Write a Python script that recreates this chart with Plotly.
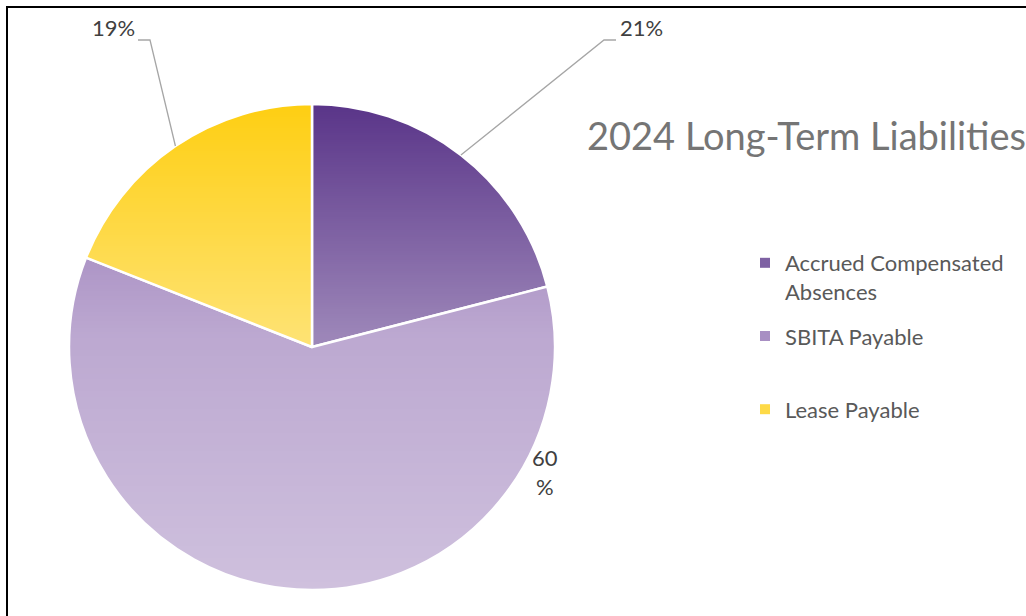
import base64
import math
import struct
import zlib

import plotly.graph_objects as go

# ---- data -------------------------------------------------------------
categories = ["Accrued Compensated Absences", "SBITA Payable", "Lease Payable"]
legend_labels = ["Accrued Compensated<br>Absences", "SBITA Payable<br>\u00a0", "Lease Payable<br>\u00a0"]
shares = [21, 60, 19]
pct_labels = ["21%", "60<br>%", "19%"]
slice_colors = ["#5a3589", "#906fb2", "#fecf13"]

# ---- layout constants (pixels in a 1026 x 616 canvas) ------------------
W, H = 1026, 616
CX, CY, R = 312, 347, 243          # pie centre and radius
# label centres and leader elbows (None = no leader line)
label_xy = [(641, 28), (545, 472), (113, 28)]
elbow_xy = [(604, 40), None, (150, 40)]
tail_len = 12


def px(x):
    return x / W


def py(y):
    return 1 - y / H


def blend_white(hex_color, a):
    r, g, b = (int(hex_color[i:i + 2], 16) for i in (1, 3, 5))
    mix = lambda c: round(c + (255 - c) * a)
    return "#{:02x}{:02x}{:02x}".format(mix(r), mix(g), mix(b))


def gradient_png(n):
    """Vertical white ramp (transparent at the top, lighter towards the bottom)."""
    rows = b""
    for i in range(n):
        t = i / (n - 1)
        a = 0.84 * t if t < 0.475 else 0.40 + 0.32 * (t - 0.475)
        rows += b"\x00" + bytes([255, 255, 255, int(round(a * 255))])

    def chunk(tag, data):
        c = tag + data
        return struct.pack(">I", len(data)) + c + struct.pack(">I", zlib.crc32(c) & 0xFFFFFFFF)

    png = b"\x89PNG\r\n\x1a\n"
    png += chunk(b"IHDR", struct.pack(">IIBBBBB", 1, n, 8, 6, 0, 0, 0))
    png += chunk(b"IDAT", zlib.compress(rows, 9))
    png += chunk(b"IEND", b"")
    return "data:image/png;base64," + base64.b64encode(png).decode()


FONT = "Lato"

fig = go.Figure()

fig.add_trace(go.Pie(
    labels=categories,
    values=shares,
    sort=False,
    direction="clockwise",
    rotation=0,
    marker=dict(colors=slice_colors, line=dict(color="white", width=2.5)),
    textinfo="none",
    hoverinfo="label+percent",
    showlegend=False,
    domain=dict(x=[px(CX - R), px(CX + R)], y=[py(CY + R), py(CY - R)]),
))

# legend entries, one group each so the spacing can be set
for lab, col in zip(legend_labels, slice_colors):
    fig.add_trace(go.Scatter(
        x=[None], y=[None], mode="markers", name=lab, legendgroup=lab,
        marker=dict(symbol="square", size=10, color=blend_white(col, 0.22)),
        hoverinfo="skip",
    ))

# percentage labels with leader lines anchored at each slice's mid-angle
shapes = []
annotations = []
total = sum(shares)
start = 0.0
for share, text, (lx, ly), elbow in zip(shares, pct_labels, label_xy, elbow_xy):
    mid = start + share / total * 360 / 2
    start += share / total * 360
    ang = math.radians(mid)
    ex, ey = CX + R * math.sin(ang), CY - R * math.cos(ang)
    annotations.append(dict(
        x=px(lx), y=py(ly), xref="paper", yref="paper", text=text, showarrow=False,
        font=dict(family=FONT, size=22, color="#404040"), xanchor="center", yanchor="middle",
    ))
    if elbow is not None:
        bx, by = elbow
        tx = bx + (tail_len if lx > bx else -tail_len)
        shapes.append(dict(
            type="path", xref="paper", yref="paper", layer="above",
            path=f"M{px(ex)},{py(ey)} L{px(bx)},{py(by)} L{px(tx)},{py(by)}",
            line=dict(color="#a6a6a6", width=1.3),
        ))

# chart frame
shapes.append(dict(
    type="rect", xref="paper", yref="paper", x0=px(7), y0=-0.05, x1=1.05, y1=py(7),
    line=dict(color="black", width=2), fillcolor="rgba(0,0,0,0)", layer="above",
))

fig.update_layout(
    width=W, height=H,
    margin=dict(l=0, r=0, t=0, b=0),
    paper_bgcolor="white", plot_bgcolor="white",
    xaxis=dict(visible=False), yaxis=dict(visible=False),
    title=dict(
        text="2024 Long-Term Liabilities", x=px(587), xanchor="left",
        y=py(137), yanchor="middle", xref="paper", yref="paper",
        font=dict(family=FONT, size=38, color="#757575"),
    ),
    legend=dict(
        x=px(745), y=py(242), xanchor="left", yanchor="top",
        font=dict(family=FONT, size=22, color="#595959"),
        valign="top", tracegroupgap=13, bgcolor="rgba(0,0,0,0)",
    ),
    images=[dict(
        source=gradient_png(486), xref="paper", yref="paper",
        x=px(CX - R), y=py(CY - R), sizex=px(2 * R), sizey=2 * R / H,
        xanchor="left", yanchor="top", sizing="stretch", layer="above",
    )],
    shapes=shapes,
    annotations=annotations,
)

fig.write_html("out.html")
